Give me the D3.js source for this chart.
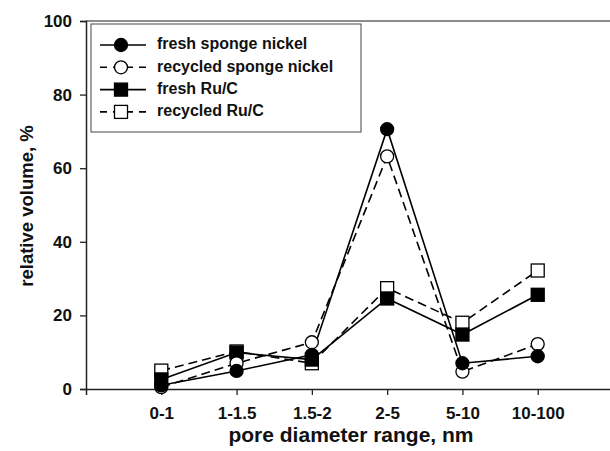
<!DOCTYPE html>
<html>
<head>
<meta charset="utf-8">
<script src="https://cdnjs.cloudflare.com/ajax/libs/d3/7.8.5/d3.min.js"></script>
<style>
  body { margin: 0; background: #fff; }
  svg { display: block; font-family: "Liberation Sans", Arial, sans-serif; }
</style>
</head>
<body>
<div id="chart"></div>
<script>
// categories and series values (relative volume, %)
const categories = ["0-1", "1-1.5", "1.5-2", "2-5", "5-10", "10-100"];
const freshNickel = [1.0, 4.9, 9.3, 70.6, 7.0, 8.9];
const recycledNickel = [0.5, 7.0, 12.7, 63.2, 4.7, 12.2];
const freshRuC = [2.6, 9.9, 8.0, 24.6, 14.8, 25.6];
const recycledRuC = [5.0, 10.2, 7.0, 27.4, 18.0, 32.2];
const yTicks = [0, 20, 40, 60, 80, 100];

const series = [
  { name: "fresh sponge nickel", values: freshNickel, shape: "circle", filled: true, dashed: false },
  { name: "recycled sponge nickel", values: recycledNickel, shape: "circle", filled: false, dashed: true },
  { name: "fresh Ru/C", values: freshRuC, shape: "square", filled: true, dashed: false },
  { name: "recycled Ru/C", values: recycledRuC, shape: "square", filled: false, dashed: true }
];

const width = 610, height = 451;
const plotL = 86, plotR = 613, plotT = 21, plotB = 389;

const svg = d3.select("#chart").append("svg")
  .attr("width", width).attr("height", height);

// category index -> position; index -1 sits on the y axis
const x = d3.scaleLinear().domain([-1, 6]).range([plotL, plotR]);
const y = d3.scaleLinear().domain([0, 100]).range([plotB, plotT]);

// frame top line
svg.append("line")
  .attr("x1", plotL).attr("x2", plotR).attr("y1", plotT).attr("y2", plotT)
  .attr("stroke", "#666").attr("stroke-width", 1.5);

// y axis
const yAxis = svg.append("g")
  .attr("transform", `translate(${plotL},0)`)
  .call(d3.axisLeft(y).tickValues(yTicks).tickSize(6).tickPadding(8));
yAxis.select(".domain").attr("stroke", "#222").attr("stroke-width", 1.5);
yAxis.selectAll(".tick line").attr("stroke", "#222").attr("stroke-width", 1.3);
yAxis.selectAll("text").attr("font-size", 17).attr("font-weight", "bold")
  .attr("fill", "#111").attr("font-family", "Liberation Sans, Arial, sans-serif");

// x axis
const xAxis = svg.append("g")
  .attr("transform", `translate(0,${plotB})`)
  .call(d3.axisBottom(x).tickValues(d3.range(categories.length))
    .tickFormat(i => categories[i]).tickSize(6).tickPadding(12));
xAxis.select(".domain").attr("stroke", "#222").attr("stroke-width", 1.5);
xAxis.selectAll(".tick line").attr("stroke", "#222").attr("stroke-width", 1.3);
xAxis.selectAll("text").attr("font-size", 17).attr("font-weight", "bold")
  .attr("fill", "#111").attr("font-family", "Liberation Sans, Arial, sans-serif");

// axis titles
svg.append("text")
  .attr("x", 351).attr("y", 442)
  .attr("text-anchor", "middle")
  .attr("font-size", 21).attr("font-weight", "bold").attr("fill", "#111")
  .text("pore diameter range, nm");

svg.append("text")
  .attr("transform", "translate(28,206) rotate(-90)")
  .attr("text-anchor", "middle").attr("dominant-baseline", "middle")
  .attr("font-size", 18.5).attr("font-weight", "bold").attr("fill", "#111")
  .text("relative volume, %");

const line = d3.line().x((d, i) => x(i)).y(d => y(d));

function drawMarker(g, cx, cy, s) {
  const fill = s.filled ? "#000" : "#fff";
  if (s.shape === "circle") {
    g.append("circle").attr("cx", cx).attr("cy", cy).attr("r", 6.5)
      .attr("fill", fill).attr("stroke", "#000").attr("stroke-width", 1.3);
  } else {
    g.append("rect").attr("x", cx - 6.5).attr("y", cy - 6.5)
      .attr("width", 13).attr("height", 13)
      .attr("fill", fill).attr("stroke", "#000").attr("stroke-width", 1.3);
  }
}

// lines first, markers on top
const drawOrder = [3, 2, 1, 0];
drawOrder.forEach(k => {
  const s = series[k];
  svg.append("path").datum(s.values)
    .attr("d", line).attr("fill", "none")
    .attr("stroke", "#000").attr("stroke-width", 1.6)
    .attr("stroke-dasharray", s.dashed ? "9,5" : null);
});
drawOrder.forEach(k => {
  const s = series[k];
  const g = svg.append("g");
  s.values.forEach((v, i) => drawMarker(g, x(i), y(v), s));
});

// legend
const legend = svg.append("g");
legend.append("rect")
  .attr("x", 91).attr("y", 24).attr("width", 270).attr("height", 108)
  .attr("fill", "#fff").attr("stroke", "#444").attr("stroke-width", 1);

series.forEach((s, i) => {
  const ly = 45 + i * 22.3;
  legend.append("line")
    .attr("x1", 100).attr("x2", 146).attr("y1", ly).attr("y2", ly)
    .attr("stroke", "#000").attr("stroke-width", 1.6)
    .attr("stroke-dasharray", s.dashed ? "7,6" : null);
  drawMarker(legend, 121, ly, s);
  legend.append("text")
    .attr("x", 157).attr("y", ly).attr("dominant-baseline", "middle")
    .attr("font-size", 16).attr("font-weight", "bold").attr("fill", "#111")
    .text(s.name);
});
</script>
</body>
</html>
